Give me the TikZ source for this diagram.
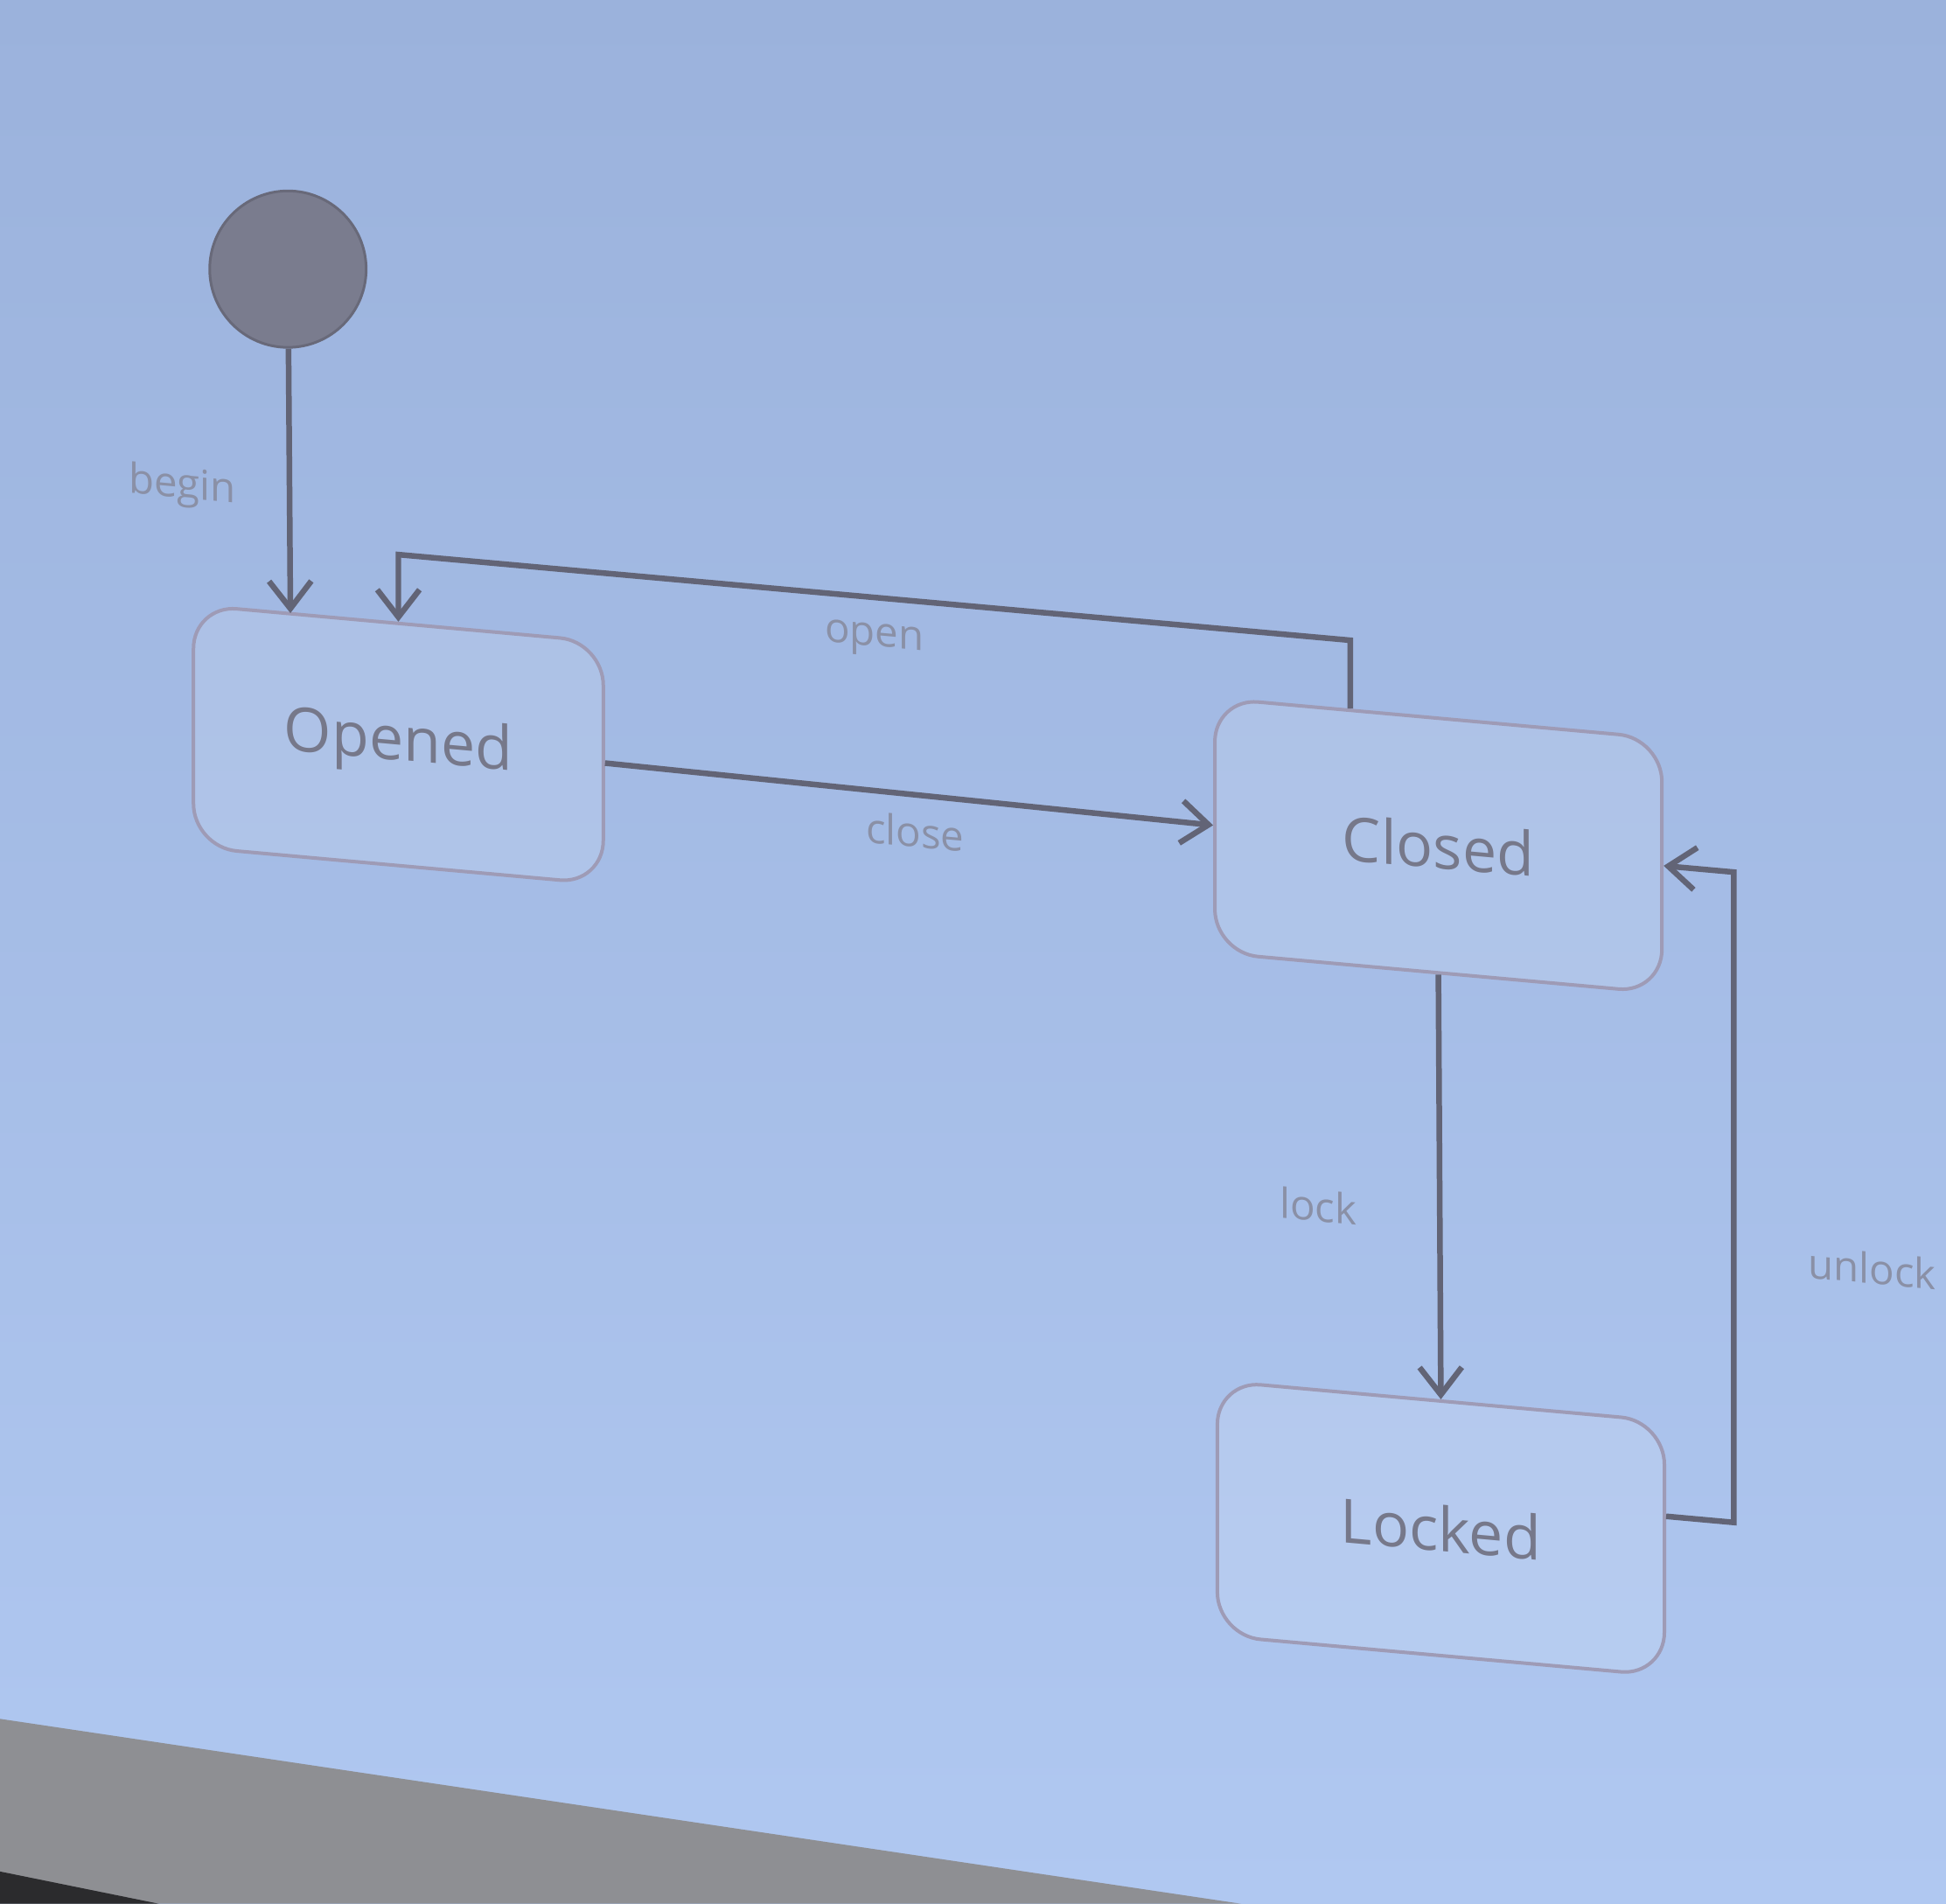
\documentclass[tikz,border=0pt]{standalone}
\usepackage{fontspec}
\setmainfont{Open Sans}
\usepackage{tikz}
\usetikzlibrary{arrows.meta}
\definecolor{slideTop}{HTML}{9BB2DC}
\definecolor{slideBottom}{HTML}{B0C8F1}
\definecolor{edgeGrey}{HTML}{626476}
\definecolor{boxLine}{HTML}{9E9BB6}
\definecolor{stateText}{HTML}{76788A}
\definecolor{labelText}{HTML}{8A90A6}
\definecolor{dotGrey}{HTML}{7A7C8E}
\definecolor{bezelGrey}{HTML}{8E8F93}
\definecolor{bezelDark}{HTML}{2B2B2D}
\tikzset{
  statebox/.style={draw=boxLine,line width=0.8pt,fill=white,fill opacity=0.12,
    text opacity=1,rounded corners=3.5mm,minimum width=3.6cm,minimum height=2.05cm,
    text=stateText,font=\fontsize{14}{16}\selectfont,transform shape},
  startdot/.style={circle,fill=dotGrey,draw=dotGrey!85!black,line width=0.6pt,
    minimum size=1.26cm,inner sep=0pt},
  trans/.style={draw=edgeGrey,line width=1.3pt},
  lbl/.style={text=labelText,font=\fontsize{9.5}{11}\selectfont,transform shape},
}

\begin{document}
\begin{tikzpicture}[x=0.01cm,y=-0.01cm,>={Straight Barb[length=2.2mm,width=3.4mm]}]
    \useasboundingbox (0,0) rectangle (1568,1534);
    \shade[top color=slideTop,bottom color=slideBottom] (0,0) rectangle (1568,1534);
    \begin{scope}[yslant=-0.09]
      % states
      \node[startdot] (start) at (232,196) {};
      \node[statebox,minimum width=3.3cm,minimum height=1.95cm] (opened) at (321,571) {Opened};
      \node[statebox] (closed) at (1159,577) {Closed};
      \node[statebox] (locked) at (1161,1127) {Locked};
      % bends
      \coordinate (beginEnd) at (234,473);
      \coordinate (openA) at (1088,418);
      \coordinate (openB) at (321,418);
      \coordinate (unlockA) at (1397,1101);
      \coordinate (unlockB) at (1397,577);
      % transitions
      \draw[trans,->] (start) -- node[lbl,pos=0.56,left=2.9mm] {begin} (beginEnd);
      \draw[trans,->] (openA |- closed.north) -- (openA)
        -- node[lbl,below=0.7mm] {open} (openB) -- (opened.north);
      \draw[trans,->] (opened.east) -- node[lbl,pos=0.51,below=0.3mm] {close} (closed.west);
      \draw[trans,->] (closed.south) -- node[lbl,pos=0.57,left=5.3mm] {lock} (locked.north);
      \draw[trans,->] ([yshift=2.6mm]locked.east) -- (unlockA)
        -- node[lbl,pos=0.41,right=4.6mm] {unlock} (unlockB) -- (closed.east);
    \end{scope}
    % screen edge
    \fill[bezelGrey] (0,1385) -- (1000,1534) -- (0,1534) -- cycle;
    \fill[bezelDark] (0,1508) -- (128,1534) -- (0,1534) -- cycle;
  \end{tikzpicture}
\end{document}
